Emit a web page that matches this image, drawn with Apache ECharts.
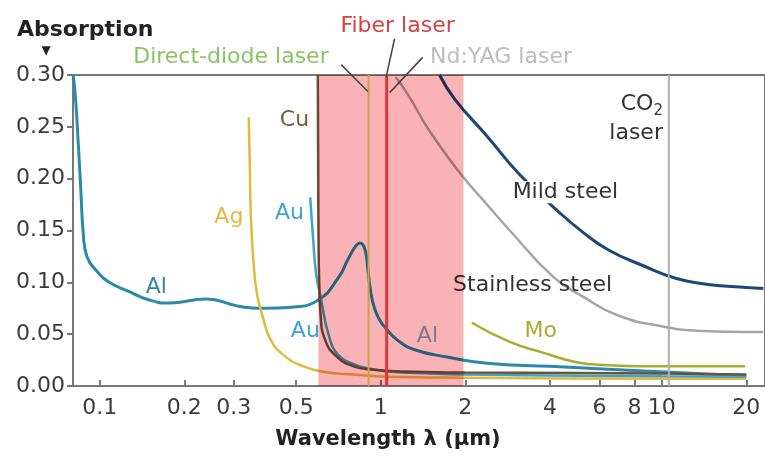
<!DOCTYPE html>
<html>
<head>
<meta charset="utf-8">
<script src="https://cdn.jsdelivr.net/npm/echarts@6/dist/echarts.min.js"></script>
<style>html,body{margin:0;padding:0;background:#fff;}#c{width:765px;height:457px;}</style>
</head>
<body>
<div id="c"></div>
<script>
// ---- data (wavelength in µm, absorption) ----
const xTickVals = [0.1, 0.2, 0.3, 0.5, 1, 2, 4, 6, 8, 10, 20];
const xTickLabels = ['0.1', '0.2', '0.3', '0.5', '1', '2', '4', '6', '8', '10', '20'];
const yTickLabels = ['0.00', '0.05', '0.10', '0.15', '0.20', '0.25', '0.30'];

const alWl  = [0.0805, 0.082, 0.0838, 0.0857, 0.0873, 0.090, 0.099, 0.108, 0.125, 0.150, 0.177, 0.239, 0.312, 0.389, 0.481, 0.599, 0.705, 0.764, 0.81, 0.843, 0.878, 0.90, 0.922, 0.95, 0.99, 1.04, 1.15, 1.32, 1.72, 2.39, 4, 10.3, 20];
const alAbs = [0.300, 0.277, 0.235, 0.187, 0.148, 0.125, 0.109, 0.100, 0.092, 0.083, 0.080, 0.084, 0.077, 0.075, 0.076, 0.083, 0.104, 0.122, 0.134, 0.138, 0.132, 0.112, 0.090, 0.075, 0.064, 0.056, 0.044, 0.035, 0.028, 0.022, 0.019, 0.0135, 0.0097];

const auWl  = [0.561, 0.575, 0.589, 0.614, 0.65, 0.705, 0.8, 0.9, 1.06, 1.5, 2, 5, 10, 20];
const auAbs = [0.182, 0.141, 0.108, 0.083, 0.051, 0.030, 0.021, 0.017, 0.014, 0.012, 0.011, 0.010, 0.0095, 0.009];

const cuWl  = [0.597, 0.599, 0.601, 0.604, 0.61, 0.635, 0.70, 0.8, 0.93, 1.2, 2, 5, 10, 20];
const cuAbs = [0.300, 0.200, 0.130, 0.100, 0.071, 0.044, 0.028, 0.019, 0.016, 0.014, 0.013, 0.0125, 0.012, 0.011];

const agWl  = [0.339, 0.342, 0.345, 0.352, 0.362, 0.38, 0.405, 0.45, 0.53, 0.65, 0.8, 1.06, 2, 10, 20];
const agAbs = [0.259, 0.212, 0.163, 0.122, 0.090, 0.067, 0.045, 0.030, 0.019, 0.013, 0.011, 0.009, 0.008, 0.007, 0.007];

const mildWl  = [1.62, 1.83, 2.39, 3.12, 4.22, 5.26, 6.49, 8.6, 11.2, 14.6, 20, 23];
const mildAbs = [0.300, 0.277, 0.241, 0.204, 0.170, 0.148, 0.131, 0.116, 0.104, 0.098, 0.095, 0.094];

const stainWl  = [1.13, 1.25, 1.5, 1.92, 2.39, 2.88, 4.12, 5.26, 7, 10.3, 14, 20, 23];
const stainAbs = [0.298, 0.281, 0.245, 0.205, 0.175, 0.150, 0.105, 0.086, 0.068, 0.057, 0.053, 0.052, 0.052];

const moWl  = [2.11, 2.88, 3.8, 4.97, 6.5, 8.6, 19.8];
const moAbs = [0.061, 0.0425, 0.032, 0.023, 0.020, 0.019, 0.019];

const bandWl = [0.6, 1.97];
const laserNames = ['Direct-diode', 'Fiber', 'CO2'];
const laserWl = [0.905, 1.05, 10.6];

// labels: text, wavelength, absorption (centre of the text)
const matLabels   = ['Al', 'Al', 'Ag', 'Au', 'Au', 'Cu', 'Mo', 'Mild steel', 'Stainless steel'];
const matLabelWl  = [0.159, 1.466, 0.288, 0.473, 0.539, 0.493, 3.71, 4.54, 3.47];
const matLabelAbs = [0.0957, 0.0484, 0.163, 0.167, 0.053, 0.256, 0.053, 0.187, 0.097];

const laserLabels   = ['Direct-diode laser', 'Fiber laser', 'Nd:YAG laser'];
const laserLabelWl  = [0.293, 1.148, 2.68];
const laserLabelAbs = [0.317, 0.347, 0.317];
// leader lines [from, to]
const leaderWl  = [[0.723, 0.90], [1.12, 1.045], [1.41, 1.076]];
const leaderAbs = [[0.310, 0.284], [0.335, 0.298], [0.317, 0.283]];

// ---- styles ----
const FONT = '"DejaVu Sans"';
const C = {
  al: '#2b8aa8', au: '#3ea5c8', cu: '#6b5238', ag: '#e4b83a',
  mild: '#1e4677', stain: '#aaa3a4', mo: '#a9ad2f',
  band: '#f9b3b6', diode: '#c8a24a', fiber: '#d9363c', co2: '#b0b0b0', axis: '#777777'
};
const matLabelColors = [C.al, '#80afc3', C.ag, C.au, C.au, '#7a5a3a', C.mo, '#333333', '#333333'];
const laserLabelColors = ['#8cc266', '#d6403f', '#bdbdbd'];
const laserColors = [C.diode, C.fiber, C.co2];
const laserWidths = [2, 3, 2];

const L = Math.log10;
const pts = (wl, ab) => wl.map((w, i) => [L(w), ab[i]]);
const xMin = L(0.0803);
const xMax = xMin + 697 / 283;

function curve(name, wl, ab, color, width) {
  return {
    name, type: 'line', data: pts(wl, ab), showSymbol: false, symbol: 'none',
    smooth: 0.5, silent: true, z: 2,
    lineStyle: { color, width: width || 2.5 }
  };
}

const chart = echarts.init(document.getElementById('c'), null, { renderer: 'canvas' });

const laserSeries = laserWl.map((w, i) => ({
  name: laserNames[i], type: 'line', zlevel: 2, z: 4, silent: true, showSymbol: false, symbol: 'none',
  data: [[L(w), 0], [L(w), 0.30]],
  lineStyle: { color: laserColors[i], width: laserWidths[i] }
}));

const option = {
  animation: false,
  backgroundColor: '#ffffff',
  grid: { left: 73, top: 75, right: -5, bottom: 71, show: true, borderColor: C.axis, borderWidth: 2, backgroundColor: 'transparent' },
  xAxis: {
    type: 'value', min: xMin, max: xMax,
    splitLine: { show: false },
    axisLine: { show: true, onZero: false, lineStyle: { color: C.axis, width: 2 } },
    axisTick: { show: true, inside: true, length: 6, lineStyle: { color: C.axis, width: 2 }, customValues: xTickVals.map(L) },
    axisLabel: {
      show: true, customValues: xTickVals.map(L), margin: 11,
      color: '#3c3c3c', fontFamily: 'DejaVu Sans', fontSize: 22,
      formatter: (v) => {
        let best = 0, d = 1e9;
        xTickVals.forEach((t, i) => { const dd = Math.abs(L(t) - v); if (dd < d) { d = dd; best = i; } });
        return xTickLabels[best];
      }
    }
  },
  yAxis: {
    type: 'value', min: 0, max: 0.30, interval: 0.05,
    splitLine: { show: false },
    axisLine: { show: true, onZero: false, lineStyle: { color: C.axis, width: 2 } },
    axisTick: { show: true, length: 6, lineStyle: { color: C.axis, width: 2 } },
    axisLabel: {
      color: '#3c3c3c', fontFamily: 'DejaVu Sans', fontSize: 22, margin: 8,
      formatter: (v) => yTickLabels[Math.round(v / 0.05)]
    }
  },
  series: [
    curve('Al', alWl, alAbs, C.al, 3),
    curve('Ag', agWl, agAbs, C.ag, 2.5),
    curve('Au', auWl, auAbs, C.au, 2.5),
    curve('Cu', cuWl, cuAbs, C.cu, 2.5),
    curve('Mo', moWl, moAbs, C.mo, 2.5),
    curve('Stainless steel', stainWl, stainAbs, C.stain, 2.5),
    curve('Mild steel', mildWl, mildAbs, C.mild, 3),
    {
      name: 'band', type: 'custom', zlevel: 1, z: 3, silent: true,
      data: [[L(bandWl[0]), L(bandWl[1])]],
      renderItem: (params, api) => {
        const p0 = api.coord([api.value(0), 0.30]);
        const p1 = api.coord([api.value(1), 0]);
        return {
          type: 'rect',
          shape: { x: p0[0], y: p0[1], width: p1[0] - p0[0], height: p1[1] - p0[1] },
          style: { fill: C.band }
        };
      }
    }
  ].concat(laserSeries)
};
chart.setOption(option);

function px(w, a) { return chart.convertToPixel({ gridIndex: 0 }, [L(w), a]); }

const g = [];
const F = (s, b) => (b ? 'bold ' : '') + s + 'px ' + FONT;
matLabels.forEach((t, i) => {
  const p = px(matLabelWl[i], matLabelAbs[i]);
  g.push({
    type: 'text', x: p[0], y: p[1], zlevel: t === 'Mild steel' ? 2 : 0, z: 5,
    style: {
      text: t, fill: matLabelColors[i], font: F(22), align: 'center', verticalAlign: 'middle',
      backgroundColor: t === 'Mild steel' ? '#ffffff' : null, padding: t === 'Mild steel' ? [0, 2] : 0
    }
  });
});
laserLabels.forEach((t, i) => {
  const p = px(laserLabelWl[i], laserLabelAbs[i]);
  g.push({ type: 'text', x: p[0], y: p[1], zlevel: 2, z: 10,
    style: { text: t, fill: laserLabelColors[i], font: F(22), align: 'center', verticalAlign: 'middle' } });
});
leaderWl.forEach((pair, i) => {
  const a = px(pair[0], leaderAbs[i][0]);
  const b = px(pair[1], leaderAbs[i][1]);
  g.push({ type: 'line', zlevel: 2, z: 10, shape: { x1: a[0], y1: a[1], x2: b[0], y2: b[1] }, style: { stroke: '#444444', lineWidth: 1.5 } });
});
// CO2 laser label
const pc = px(10.1, 0.258);
g.push({ type: 'text', x: pc[0], y: pc[1], zlevel: 2, z: 10,
  style: {
    text: 'CO{s|2}\nlaser', fill: '#333333', font: F(22), align: 'right', verticalAlign: 'middle', lineHeight: 29,
    rich: { s: { fontSize: 15, fontFamily: 'DejaVu Sans', fill: '#333333', verticalAlign: 'bottom', padding: [10, 0, 0, 0] } }
  } });
// axis titles
g.push({ type: 'text', x: 17, y: 30, zlevel: 2, z: 10, style: { text: 'Absorption', fill: '#222222', font: F(22, true), align: 'left', verticalAlign: 'middle' } });
g.push({ type: 'text', x: 46, y: 51, zlevel: 2, z: 10, style: { text: '▼', fill: '#222222', font: '12px "DejaVu Sans"', align: 'center', verticalAlign: 'middle' } });
g.push({ type: 'text', x: 388, y: 440, zlevel: 2, z: 10, style: { text: 'Wavelength λ (µm)', fill: '#222222', font: F(21, true), align: 'center', verticalAlign: 'middle' } });

chart.setOption({ graphic: { elements: g } });

// multiply-blend the band layer over the curves
document.querySelectorAll('#c canvas').forEach((cv) => {
  if (cv.getAttribute('data-zr-dom-id') === 'zr_1') cv.style.mixBlendMode = 'multiply';
});
</script>
</body>
</html>
